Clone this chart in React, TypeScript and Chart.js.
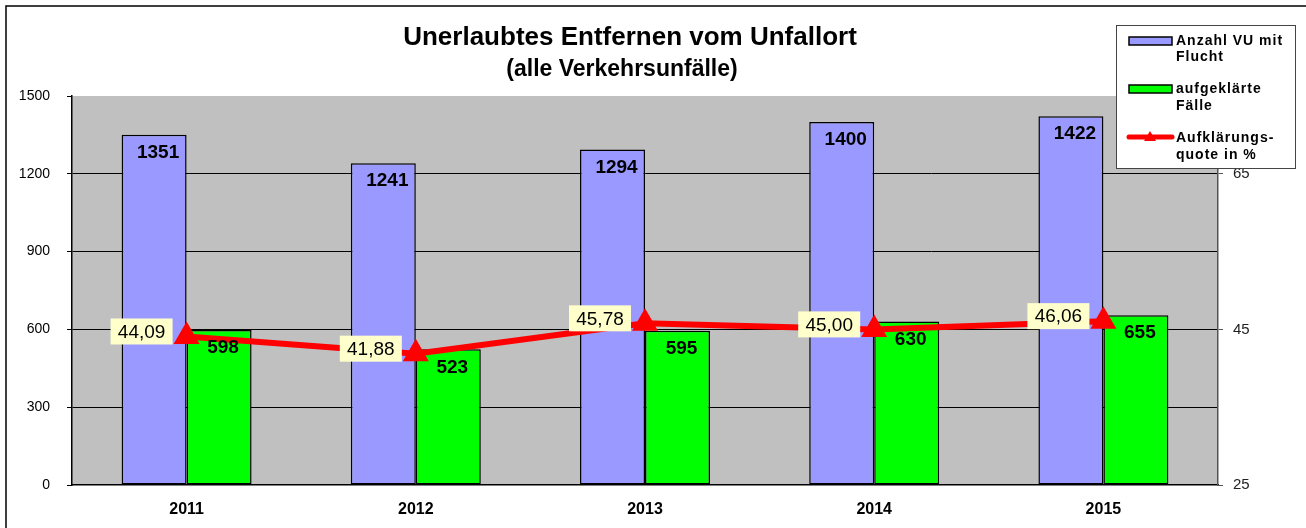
import React, { useEffect, useRef } from "react";
import { Chart, registerables } from "chart.js";

Chart.register(...registerables);

const years = ["2011", "2012", "2013", "2014", "2015"];
const accidentsWithFlight = [1351, 1241, 1294, 1400, 1422];
const solvedCases = [598, 523, 595, 630, 655];
const clearanceRate = [44.09, 41.88, 45.78, 45.0, 46.06];
const leftTicks = [0, 300, 600, 900, 1200, 1500];
const rightTicks = [25, 45, 65];

const FONT = '"Liberation Sans", Arial, sans-serif';

const decorPlugin = {
  id: "decor",
  beforeDraw(chart: any) {
    const { ctx, chartArea: a, width } = chart;
    ctx.save();
    ctx.fillStyle = "#fff";
    ctx.fillRect(0, 0, chart.width, chart.height);
    ctx.fillStyle = "#C0C0C0";
    ctx.fillRect(a.left, a.top, a.right - a.left, a.bottom - a.top);
    // frame
    ctx.strokeStyle = "#000";
    ctx.lineWidth = 1.5;
    ctx.beginPath();
    ctx.moveTo(6, chart.height);
    ctx.lineTo(6, 6);
    ctx.lineTo(width, 6);
    ctx.stroke();
    // title
    ctx.fillStyle = "#000";
    ctx.textAlign = "center";
    ctx.textBaseline = "middle";
    ctx.font = `bold 26px ${FONT}`;
    ctx.fillText("Unerlaubtes Entfernen vom Unfallort", 630, 38);
    ctx.font = `bold 23px ${FONT}`;
    ctx.fillText("(alle Verkehrsunfälle)", 622, 70);
    ctx.restore();
  },
  afterDatasetsDraw(chart: any) {
    const { ctx } = chart;
    ctx.save();
    ctx.textAlign = "center";
    ctx.textBaseline = "middle";
    ctx.fillStyle = "#000";
    ctx.font = `bold 19px ${FONT}`;
    [0, 1].forEach((di) => {
      const meta = chart.getDatasetMeta(di);
      const vals = chart.data.datasets[di].data;
      meta.data.forEach((el: any, i: number) => {
        ctx.fillText(String(vals[i]), el.x + 4, el.y + 18);
      });
    });
    // line labels
    const lm = chart.getDatasetMeta(2);
    ctx.font = `19px ${FONT}`;
    lm.data.forEach((el: any, i: number) => {
      const txt = clearanceRate[i].toFixed(2).replace(".", ",");
      const w = 62, h = 26;
      const right = el.x - 14;
      const cy = el.y - 5;
      ctx.fillStyle = "#FFFFCC";
      ctx.fillRect(right - w, cy - h / 2, w, h);
      ctx.fillStyle = "#000";
      ctx.fillText(txt, right - w / 2, cy + 1);
    });
    ctx.restore();
  },
  afterDraw(chart: any) {
    const { ctx } = chart;
    ctx.save();
    // legend box
    const lx = 1116, ly = 25, lw = 179, lh = 143;
    ctx.fillStyle = "#fff";
    ctx.fillRect(lx, ly, lw, lh);
    ctx.strokeStyle = "#444";
    ctx.lineWidth = 1;
    ctx.strokeRect(lx + 0.5, ly + 0.5, lw, lh);
    const drawSwatch = (y: number, color: string) => {
      ctx.fillStyle = color;
      ctx.fillRect(1129, y - 4, 43, 8);
      ctx.strokeStyle = "#000";
      ctx.lineWidth = 1.5;
      ctx.strokeRect(1129, y - 4, 43, 8);
    };
    drawSwatch(41, "#9999FF");
    drawSwatch(89, "#00FF00");
    ctx.strokeStyle = "#FF0000";
    ctx.lineWidth = 5;
    ctx.lineCap = "round";
    ctx.beginPath();
    ctx.moveTo(1129, 137);
    ctx.lineTo(1172, 137);
    ctx.stroke();
    ctx.fillStyle = "#FF0000";
    ctx.beginPath();
    ctx.moveTo(1150, 131);
    ctx.lineTo(1156, 141);
    ctx.lineTo(1144, 141);
    ctx.closePath();
    ctx.fill();
    ctx.fillStyle = "#000";
    ctx.textAlign = "left";
    ctx.textBaseline = "middle";
    ctx.font = `bold 14px ${FONT}`;
    (ctx as any).letterSpacing = "1px";
    const lines: [string, number][] = [
      ["Anzahl VU mit", 41],
      ["Flucht", 57],
      ["aufgeklärte", 89],
      ["Fälle", 106],
      ["Aufklärungs-", 138],
      ["quote in %", 155],
    ];
    lines.forEach(([t, y]) => ctx.fillText(t, 1176, y));
    (ctx as any).letterSpacing = "0px";
    ctx.restore();
  },
};

export default function App() {
  const ref = useRef<HTMLCanvasElement | null>(null);
  useEffect(() => {
    document.body.style.margin = "0";
    const chart = new Chart(ref.current as HTMLCanvasElement, {
      type: "bar",
      data: {
        labels: years,
        datasets: [
          {
            label: "Anzahl VU mit Flucht",
            data: accidentsWithFlight,
            backgroundColor: "#9999FF",
            borderColor: "#000",
            borderWidth: 1.5,
            borderSkipped: false,
            yAxisID: "y",
            order: 2,
          },
          {
            label: "aufgeklärte Fälle",
            data: solvedCases,
            backgroundColor: "#00FF00",
            borderColor: "#000",
            borderWidth: 1.5,
            borderSkipped: false,
            yAxisID: "y",
            order: 2,
          },
          {
            type: "line",
            label: "Aufklärungsquote in %",
            data: clearanceRate,
            borderColor: "#FF0000",
            backgroundColor: "#FF0000",
            borderWidth: 6,
            pointStyle: "triangle",
            pointRadius: 9,
            pointBackgroundColor: "#FF0000",
            pointBorderColor: "#FF0000",
            yAxisID: "y1",
            order: 0,
          } as any,
        ],
      },
      options: {
        responsive: false,
        animation: false,
        events: [],
        layout: { padding: { top: 96, left: 0, right: 0, bottom: 0 } },
        plugins: {
          legend: { display: false },
          title: { display: false },
          tooltip: { enabled: false },
        },
        datasets: { bar: { categoryPercentage: 0.567, barPercentage: 1 } },
        scales: {
          x: {
            grid: { display: false },
            border: { color: "#000", width: 1.5 },
            ticks: {
              color: "#000",
              font: { family: FONT, size: 16, weight: "bold" },
              padding: 7,
            },
            afterFit(scale: any) {
              scale.height = 43;
            },
          },
          y: {
            position: "left",
            min: 0,
            max: 1500,
            afterBuildTicks(scale: any) {
              scale.ticks = leftTicks.map((v) => ({ value: v }));
            },
            grid: {
              color: (c: any) =>
                c.tick && (c.tick.value === 0 || c.tick.value === 1500) ? "rgba(0,0,0,0)" : "#000",
              tickColor: "#000",
              lineWidth: 1,
              tickLength: 5,
            },
            border: { color: "#000", width: 1.5 },
            ticks: {
              color: "#000",
              font: { family: FONT, size: 14 },
              padding: 17,
              callback: (v: any) => String(v),
            },
            afterFit(scale: any) {
              scale.width = 72;
            },
          },
          y1: {
            position: "right",
            min: 25,
            max: 75,
            afterBuildTicks(scale: any) {
              scale.ticks = rightTicks.map((v) => ({ value: v }));
            },
            grid: {
              drawOnChartArea: false,
              tickColor: "#555",
              tickLength: 5,
            },
            border: { color: "#555", width: 1.5 },
            ticks: {
              color: "#222",
              font: { family: FONT, size: 15 },
              padding: 10,
              callback: (v: any) => String(v),
            },
            afterFit(scale: any) {
              scale.width = 88;
            },
          },
        },
      } as any,
      plugins: [decorPlugin],
    });
    return () => chart.destroy();
  }, []);
  return <canvas ref={ref} width={1306} height={528} />;
}
